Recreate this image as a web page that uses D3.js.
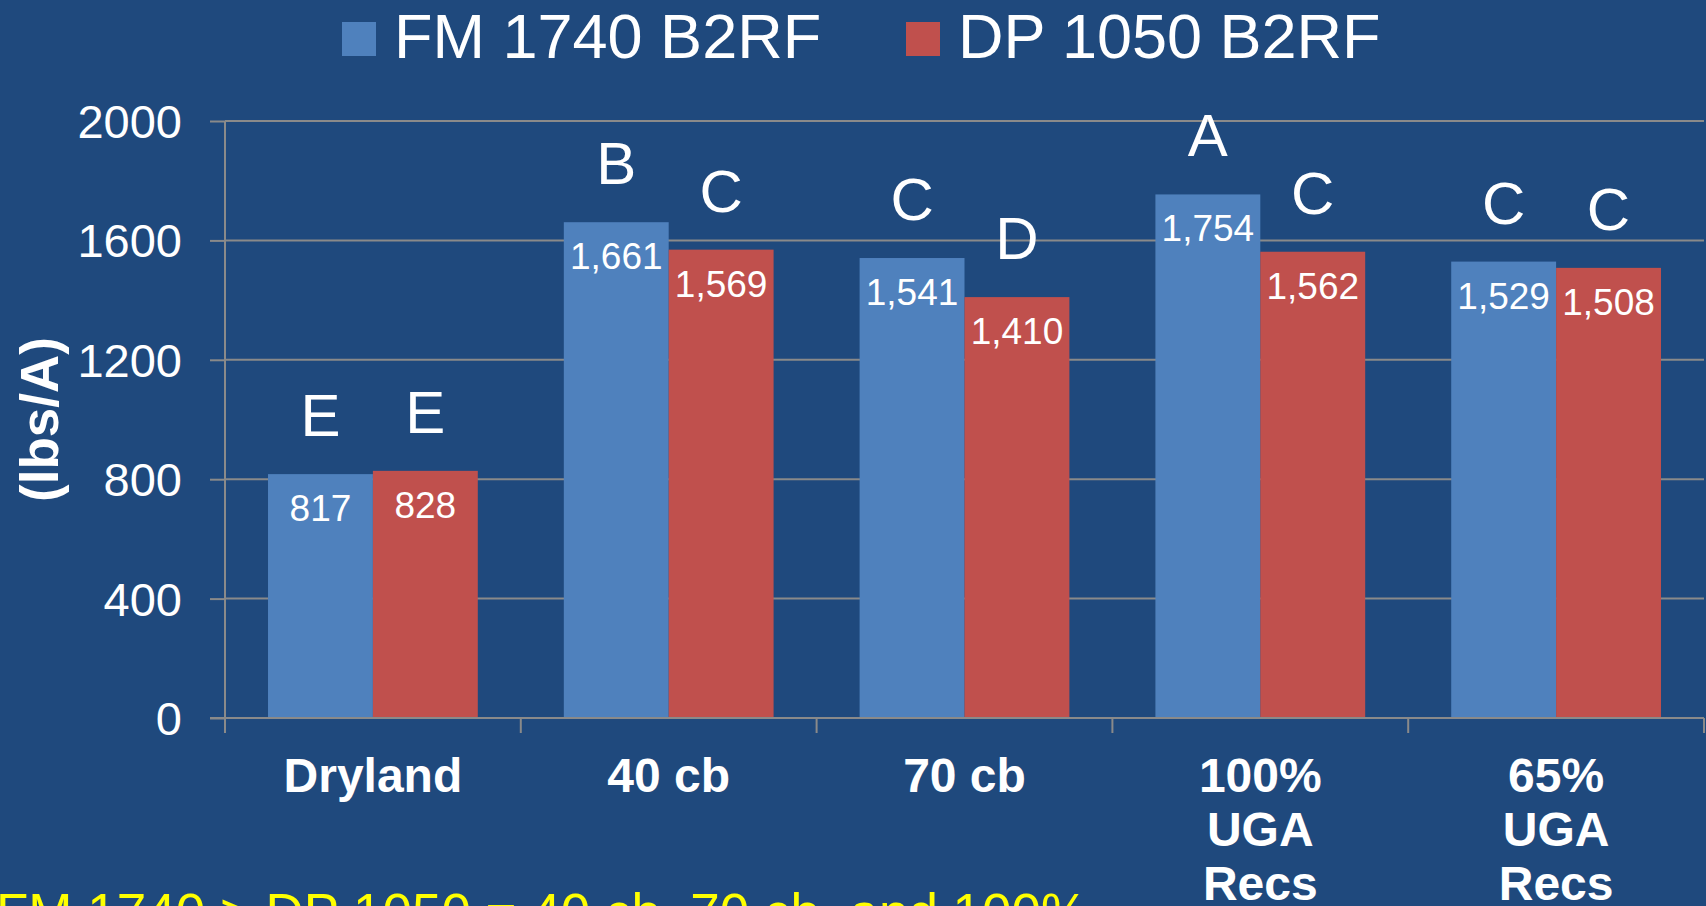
<!DOCTYPE html>
<html>
<head>
<meta charset="utf-8">
<script src="https://cdn.jsdelivr.net/npm/d3@7"></script>
<style>
  html, body { margin: 0; padding: 0; background: #1F497D; overflow: hidden; }
  svg { display: block; font-family: "Liberation Sans", Arial, sans-serif; }
</style>
</head>
<body>
<svg id="chart"></svg>
<script>
// chart data
const categories = [["Dryland"], ["40 cb"], ["70 cb"], ["100%", "UGA", "Recs"], ["65%", "UGA", "Recs"]];
const seriesNames = ["FM 1740 B2RF", "DP 1050 B2RF"];
const fmValues = [817, 1661, 1541, 1754, 1529];
const dpValues = [828, 1569, 1410, 1562, 1508];
const fmLetters = ["E", "B", "C", "A", "C"];
const dpLetters = ["E", "C", "D", "C", "C"];
const yTicks = [0, 400, 800, 1200, 1600, 2000];
const footnote = "FM 1740 > DP 1050 = 40 cb, 70 cb, and 100%";

const colors = ["#4F81BD", "#C0504D"];
const width = 1706, height = 906;
const margin = { top: 121, right: 2, bottom: 188, left: 225 };

const svg = d3.select("#chart").attr("width", width).attr("height", height);
svg.append("rect").attr("width", width).attr("height", height).attr("fill", "#1F497D");

const catKeys = categories.map(c => c.join(" "));

const x = d3.scaleBand()
  .domain(catKeys)
  .range([margin.left, width - margin.right])
  .padding(0);

const xSub = d3.scaleBand()
  .domain(seriesNames)
  .range([0, x.bandwidth()])
  .paddingInner(0)
  .paddingOuter(0.41);

const y = d3.scaleLinear()
  .domain([0, 2000])
  .range([height - margin.bottom, margin.top]);

// grid lines + y ticks
const gridColor = "#8A8A8A";
svg.append("g")
  .attr("transform", `translate(${margin.left},0)`)
  .call(d3.axisLeft(y).tickValues(yTicks).tickSize(15).tickFormat(""))
  .call(g => g.select(".domain").remove())
  .call(g => g.selectAll(".tick line").attr("stroke", gridColor).attr("stroke-width", 2));

svg.append("g")
  .selectAll("line")
  .data(yTicks.filter(d => d > 0))
  .join("line")
  .attr("x1", margin.left)
  .attr("x2", width - margin.right)
  .attr("y1", d => y(d))
  .attr("y2", d => y(d))
  .attr("stroke", gridColor)
  .attr("stroke-width", 2);

// y tick labels
svg.append("g")
  .selectAll("text")
  .data(yTicks)
  .join("text")
  .attr("x", 182)
  .attr("y", d => y(d))
  .attr("dy", "0.36em")
  .attr("text-anchor", "end")
  .attr("fill", "#fff")
  .attr("font-size", 47)
  .text(d => d);

// y axis title
svg.append("text")
  .attr("transform", `translate(58,${(y(0) + y(2000)) / 2}) rotate(-90)`)
  .attr("text-anchor", "middle")
  .attr("fill", "#fff")
  .attr("font-size", 53)
  .attr("font-weight", "bold")
  .text("(lbs/A)");

// bars
const rows = catKeys.map((k, i) => ({
  key: k,
  vals: [
    { name: seriesNames[0], value: fmValues[i], letter: fmLetters[i] },
    { name: seriesNames[1], value: dpValues[i], letter: dpLetters[i] }
  ]
}));

const groups = svg.append("g")
  .selectAll("g")
  .data(rows)
  .join("g")
  .attr("transform", d => `translate(${x(d.key)},0)`);

groups.selectAll("rect")
  .data(d => d.vals)
  .join("rect")
  .attr("x", d => xSub(d.name))
  .attr("y", d => y(d.value))
  .attr("width", xSub.bandwidth())
  .attr("height", d => y(0) - y(d.value))
  .attr("fill", (d, i) => colors[i]);

// value labels inside bars
groups.selectAll("text.val")
  .data(d => d.vals)
  .join("text")
  .attr("class", "val")
  .attr("x", d => xSub(d.name) + xSub.bandwidth() / 2)
  .attr("y", d => y(d.value) + 47)
  .attr("text-anchor", "middle")
  .attr("fill", "#fff")
  .attr("font-size", 37)
  .text(d => d3.format(",")(d.value));

// significance letters above bars
groups.selectAll("text.letter")
  .data(d => d.vals)
  .join("text")
  .attr("class", "letter")
  .attr("x", d => xSub(d.name) + xSub.bandwidth() / 2)
  .attr("y", d => y(d.value) - 38)
  .attr("text-anchor", "middle")
  .attr("fill", "#fff")
  .attr("font-size", 60)
  .text(d => d.letter);

// x axis line and ticks
svg.append("line")
  .attr("x1", margin.left - 15)
  .attr("x2", width - margin.right)
  .attr("y1", y(0))
  .attr("y2", y(0))
  .attr("stroke", gridColor)
  .attr("stroke-width", 2);

svg.append("line")
  .attr("x1", margin.left)
  .attr("x2", margin.left)
  .attr("y1", y(2000))
  .attr("y2", y(0) + 15)
  .attr("stroke", gridColor)
  .attr("stroke-width", 2);

const boundaries = catKeys.map(k => x(k) + x.bandwidth());
svg.append("g")
  .selectAll("line")
  .data(boundaries)
  .join("line")
  .attr("x1", d => d)
  .attr("x2", d => d)
  .attr("y1", y(0))
  .attr("y2", y(0) + 15)
  .attr("stroke", gridColor)
  .attr("stroke-width", 2);

// category labels
svg.append("g")
  .selectAll("text")
  .data(categories)
  .join("text")
  .attr("x", (d, i) => x(catKeys[i]) + x.bandwidth() / 2)
  .attr("y", y(0) + 74)
  .attr("text-anchor", "middle")
  .attr("fill", "#fff")
  .attr("font-size", 48)
  .attr("font-weight", "bold")
  .selectAll("tspan")
  .data(d => d)
  .join("tspan")
  .attr("x", function() { return d3.select(this.parentNode).attr("x"); })
  .attr("dy", (d, i) => i === 0 ? 0 : 54)
  .text(d => d);

// legend
const legendX = [342, 906];
const legend = svg.append("g")
  .selectAll("g")
  .data(seriesNames)
  .join("g")
  .attr("transform", (d, i) => `translate(${legendX[i]},0)`);

legend.append("rect")
  .attr("x", 0)
  .attr("y", 22)
  .attr("width", 34)
  .attr("height", 34)
  .attr("fill", (d, i) => colors[i]);

legend.append("text")
  .attr("x", 52)
  .attr("y", 58)
  .attr("fill", "#fff")
  .attr("font-size", 63)
  .text(d => d);

// footnote (cut off at bottom edge)
svg.append("text")
  .attr("x", -4)
  .attr("y", 931)
  .attr("fill", "#FFFF00")
  .attr("font-size", 53)
  .text(footnote);
</script>
</body>
</html>
